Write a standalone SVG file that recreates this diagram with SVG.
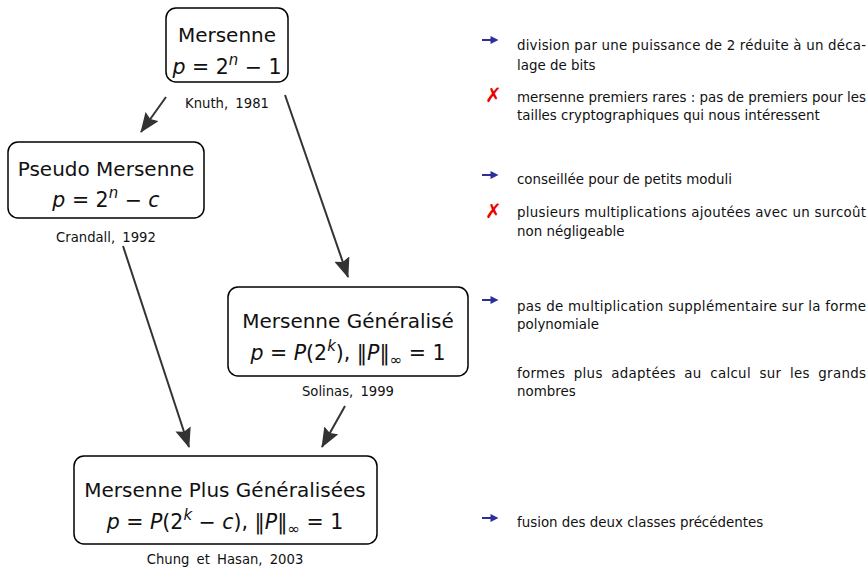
<svg xmlns="http://www.w3.org/2000/svg" width="868" height="568" viewBox="0 0 868 568">
<defs>
<marker id="big" viewBox="0 0 20 16" refX="19" refY="8" markerWidth="20" markerHeight="16" markerUnits="userSpaceOnUse" orient="auto">
<path d="M0,0 L20,8 L0,16 L3,8 z" fill="#333"/>
</marker>
<g id="barrow">
<line x1="0" y1="0" x2="11" y2="0" stroke="#2e2e9a" stroke-width="2"/>
<path d="M8.5,-4 L16.5,0 L8.5,4 z" fill="#2e2e9a"/>
</g>
</defs>
<style>
text{font-family:"DejaVu Sans","Liberation Sans",sans-serif;fill:#111}
.box{fill:#fff;stroke:#000;stroke-width:1.5}
.t{font-size:20px;text-anchor:middle}
.m{font-size:20.5px;text-anchor:middle}
.i{font-style:italic}
.cap{font-size:13.2px;text-anchor:middle;word-spacing:3px}
.note{font-size:13.4px}
.conn{stroke:#333;stroke-width:2;fill:none}
.x{font-size:20px;fill:#e00;font-style:italic;font-weight:bold}
</style>
<g id="connectors">
<line class="conn" x1="166" y1="97" x2="141" y2="132" marker-end="url(#big)"/>
<line class="conn" x1="285" y1="95" x2="348" y2="277" marker-end="url(#big)"/>
<line class="conn" x1="123" y1="246" x2="189" y2="447" marker-end="url(#big)"/>
<line class="conn" x1="345" y1="406" x2="322" y2="447" marker-end="url(#big)"/>
</g>
<g id="n1">
<rect class="box" x="166" y="8" width="122" height="74" rx="10"/>
<text class="t" x="227" y="42">Mersenne</text>
<text class="m" x="227" y="74"><tspan class="i">p</tspan> = 2<tspan class="i" font-size="15" dy="-9">n</tspan><tspan dy="9"> − 1</tspan></text>
<text class="cap" x="227" y="108">Knuth, 1981</text>
</g>
<g id="n2">
<rect class="box" x="8" y="142" width="196" height="76" rx="10"/>
<text class="t" x="106" y="176">Pseudo Mersenne</text>
<text class="m" x="106" y="207"><tspan class="i">p</tspan> = 2<tspan class="i" font-size="15" dy="-9">n</tspan><tspan dy="9"> − </tspan><tspan class="i">c</tspan></text>
<text class="cap" x="106" y="242">Crandall, 1992</text>
</g>
<g id="n3">
<rect class="box" x="228" y="287" width="240" height="89" rx="10"/>
<text class="t" x="348" y="328">Mersenne Généralisé</text>
<text class="m" x="348" y="360"><tspan class="i">p</tspan> = <tspan class="i">P</tspan>(2<tspan class="i" font-size="15" dy="-9">k</tspan><tspan dy="9">),  ‖</tspan><tspan class="i">P</tspan>‖<tspan font-size="15" dy="5">∞</tspan><tspan dy="-5"> = 1</tspan></text>
<text class="cap" x="348" y="396">Solinas, 1999</text>
</g>
<g id="n4">
<rect class="box" x="74" y="456" width="303" height="88" rx="10"/>
<text class="t" x="225" y="497">Mersenne Plus Généralisées</text>
<text class="m" x="225" y="529"><tspan class="i">p</tspan> = <tspan class="i">P</tspan>(2<tspan class="i" font-size="15" dy="-9">k</tspan><tspan dy="9"> − </tspan><tspan class="i">c</tspan>),  ‖<tspan class="i">P</tspan>‖<tspan font-size="15" dy="5">∞</tspan><tspan dy="-5"> = 1</tspan></text>
<text class="cap" x="225" y="564">Chung et Hasan, 2003</text>
</g>
<g id="notes">
<use href="#barrow" x="482" y="40"/>
<text class="note" x="517" y="50" textLength="349" lengthAdjust="spacing">division par une puissance de 2 réduite à un déca-</text>
<text class="note" x="517" y="70">lage de bits</text>
<text class="x" x="485" y="102">✗</text>
<text class="note" x="517" y="102" textLength="349" lengthAdjust="spacing">mersenne premiers rares : pas de premiers pour les</text>
<text class="note" x="517" y="120">tailles cryptographiques qui nous intéressent</text>
<use href="#barrow" x="482" y="175"/>
<text class="note" x="517" y="184">conseillée pour de petits moduli</text>
<text class="x" x="485" y="218">✗</text>
<text class="note" x="517" y="217" textLength="349" lengthAdjust="spacing">plusieurs multiplications ajoutées avec un surcoût</text>
<text class="note" x="517" y="236">non négligeable</text>
<use href="#barrow" x="482" y="300"/>
<text class="note" x="517" y="311" textLength="349" lengthAdjust="spacing">pas de multiplication supplémentaire sur la forme</text>
<text class="note" x="517" y="329">polynomiale</text>
<text class="note" x="517" y="378" word-spacing="4" textLength="349" lengthAdjust="spacing">formes plus adaptées au calcul sur les grands</text>
<text class="note" x="517" y="396">nombres</text>
<use href="#barrow" x="482" y="518"/>
<text class="note" x="517" y="527">fusion des deux classes précédentes</text>
</g>
</svg>
